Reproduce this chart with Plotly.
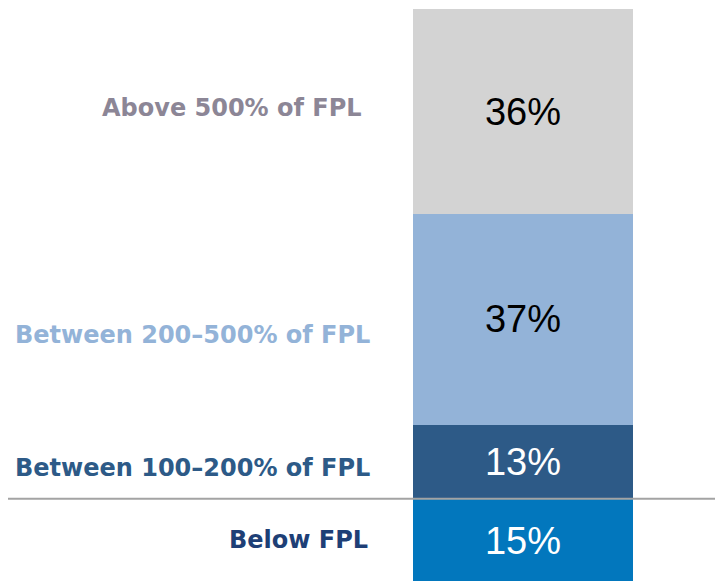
import plotly.graph_objects as go

# Share of people by income relative to the federal poverty level
categories = ["Below FPL", "Between 100–200% of FPL", "Between 200–500% of FPL", "Above 500% of FPL"]
shares = [15, 13, 37, 36]
bar_colors = ["#0277BD", "#2D5A87", "#93B3D8", "#D3D3D3"]
value_colors = ["white", "white", "black", "black"]
label_colors = ["#1E3F76", "#2D5A87", "#93B3D8", "#8C8696"]
# vertical placement of each category label (paper fraction)
label_y = [1 - 540 / 581, 1 - 468 / 581, 1 - 335 / 581, 1 - 108 / 581]
label_x = [370 / 715, 372 / 715, 372 / 715, 364 / 715]

fig = go.Figure()
for cat, val, col, tcol in zip(categories, shares, bar_colors, value_colors):
    fig.add_trace(go.Bar(
        x=[0], y=[val], name=cat, width=1,
        marker=dict(color=col, line=dict(width=0)),
        text=[f"{val}%"], textposition="inside", insidetextanchor="middle",
        textfont=dict(family="Liberation Sans, Arial, sans-serif", size=38, color=tcol),
        hoverinfo="skip",
    ))

for cat, yy, xx, lc in zip(categories, label_y, label_x, label_colors):
    fig.add_annotation(
        text=f"<b>{cat}</b>", x=xx, y=yy, xref="paper", yref="paper",
        xanchor="right", yanchor="middle", showarrow=False,
        font=dict(family="DejaVu Sans, sans-serif", size=24, color=lc),
    )

# rule separating people below the poverty line
fig.add_shape(type="line", xref="paper", yref="y", x0=8 / 715, x1=1,
              y0=shares[0], y1=shares[0], line=dict(color="#A3A3A3", width=2), layer="above")

fig.update_layout(
    barmode="stack", width=715, height=581,
    margin=dict(l=0, r=0, t=0, b=0),
    paper_bgcolor="white", plot_bgcolor="white",
    showlegend=False, uniformtext=dict(mode=False),
    xaxis=dict(domain=[413 / 715, 633 / 715], range=[-0.5, 0.5], visible=False, fixedrange=True),
    yaxis=dict(domain=[0, 1], range=[0.53, 102.6], visible=False, fixedrange=True),
)

fig.write_html("out.html")
